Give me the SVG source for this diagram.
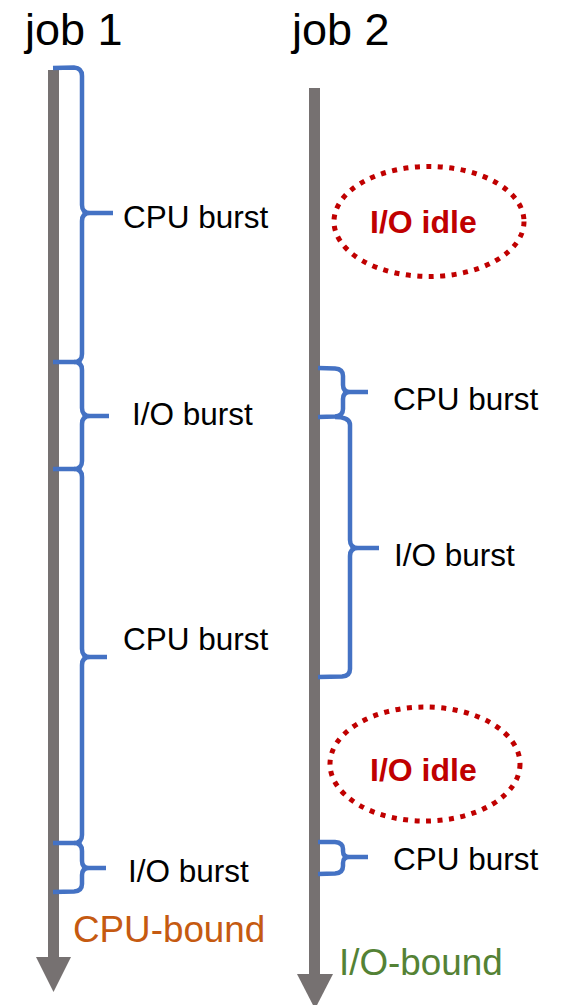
<svg xmlns="http://www.w3.org/2000/svg" width="564" height="1005" viewBox="0 0 564 1005">
<style>
  .axis { fill: #767171; }
  .brace { fill: none; stroke: #4472C4; stroke-width: 4.5; stroke-linecap: butt; stroke-linejoin: round; }
  .idle { fill: none; stroke: #C00000; stroke-width: 5; stroke-dasharray: 5 6.5; }
  .title { font-family: "Liberation Sans", Arial, Helvetica, sans-serif; font-size: 45px; fill: #000000; }
  .lbl { font-family: "Liberation Sans", Arial, Helvetica, sans-serif; font-size: 31.5px; fill: #000000; }
  .idletxt { font-family: "Liberation Sans", Arial, Helvetica, sans-serif; font-size: 32px; font-weight: bold; fill: #C00000; }
  .bound { font-family: "Liberation Sans", Arial, Helvetica, sans-serif; font-size: 36.8px; }
</style>
<rect width="564" height="1005" fill="#FFFFFF"/>

<g id="job1">
  <text class="title" x="25" y="45">job 1</text>
  <rect class="axis" x="48" y="70" width="11" height="888"/>
  <polygon class="axis" points="36,957 71,957 53.5,992"/>
  <text class="bound" x="73" y="942" fill="#C55A11">CPU-bound</text>
</g>

<g id="job2">
  <text class="title" x="292" y="45">job 2</text>
  <rect class="axis" x="309" y="88" width="11" height="887"/>
  <polygon class="axis" points="297,974 333,974 315,1009"/>
  <text class="bound" x="339" y="975" fill="#548235">I/O-bound</text>
</g>

<g id="connectors">
  <!-- job 1 braces -->
  <path id="j1-cpu1" class="brace" d="M53,68 L74,67.5 Q82,68 82,76 L82,205 Q82,213 90,213 L113,213 M90,213 Q82,213 82,221 L82,354 Q82,362 74,362 L53,362"/>
  <path id="j1-io1" class="brace" d="M74,362 Q82,362 82,370 L82,408 Q82,416 90,416 L109,416 M90,416 Q82,416 82,424 L82,461 Q82,469 74,469 L53,469"/>
  <path id="j1-cpu2" class="brace" d="M74,469 Q82,469 82,477 L82,649 Q82,657 90,657 L107,657 M90,657 Q82,657 82,665 L82,835 Q82,843 74,843 L53,843"/>
  <path id="j1-io2" class="brace" d="M74,843 Q82,843 82,851 L82,861 Q82,868 89,868 L106,868 M89,868 Q82,868 82,875 L82,884 Q82,891 74,891.5 L53,892"/>
  <!-- job 2 braces -->
  <path id="j2-cpu1" class="brace" d="M318,368 L335,368.5 Q343,369 343,376 L343,385 Q343,392 350,392 L368,392 M350,392 Q343,392 343,399 L343,409 Q343,416 335,416.5 L318,417"/>
  <path id="j2-io1" class="brace" d="M335,417 Q350,417 350,425 L350,540 Q350,548 358,548 L379,548 M358,548 Q350,548 350,556 L350,669 Q350,676 342,676.5 L318,677"/>
  <path id="j2-cpu2" class="brace" d="M318,842 L335,842 Q343,842.5 343,849 L343,851 Q343,857 349,857 L368,857 M349,857 Q343,857 343,863 L343,866 Q343,873 335,873.5 L318,874"/>
</g>

<g id="labels">
  <text class="lbl" x="123" y="228">CPU burst</text>
  <text class="lbl" x="132" y="425">I/O burst</text>
  <text class="lbl" x="123" y="650">CPU burst</text>
  <text class="lbl" x="128" y="882">I/O burst</text>
  <text class="lbl" x="393" y="410">CPU burst</text>
  <text class="lbl" x="394" y="566">I/O burst</text>
  <text class="lbl" x="393" y="870">CPU burst</text>
</g>

<g id="idle1">
  <ellipse class="idle" cx="429" cy="221.5" rx="95" ry="55"/>
  <text class="idletxt" x="370" y="233">I/O idle</text>
</g>

<g id="idle2">
  <ellipse class="idle" cx="425" cy="764" rx="95" ry="57"/>
  <text class="idletxt" x="370" y="781">I/O idle</text>
</g>
</svg>
